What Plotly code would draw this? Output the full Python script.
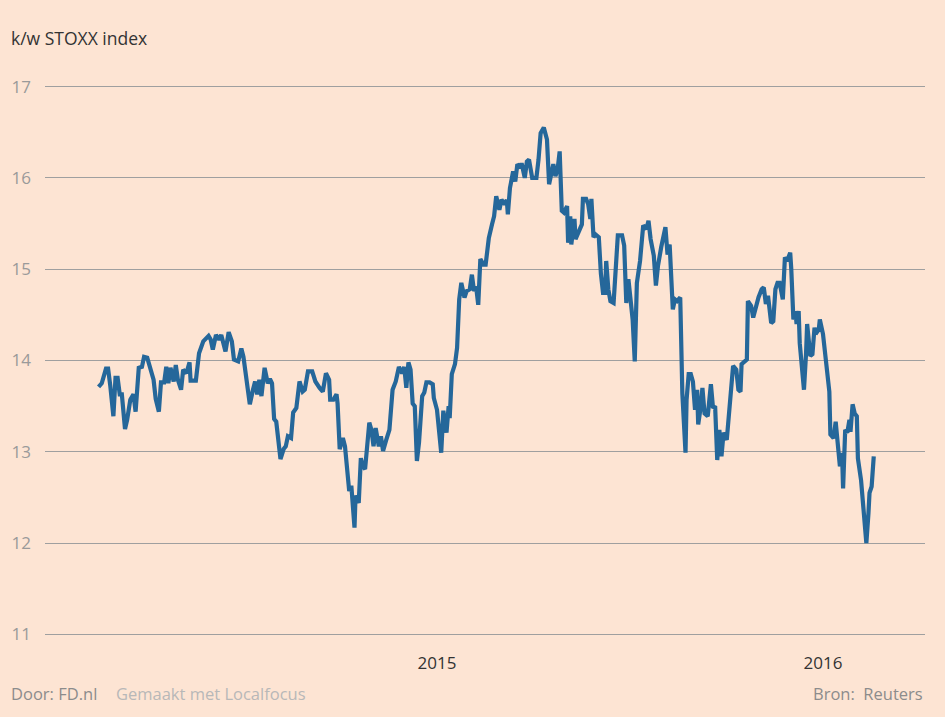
import plotly.graph_objects as go

# ---- data (k/w STOXX index) ----
dates_2014 = [
    "2014-02-15", "2014-02-18", "2014-02-22", "2014-02-24", "2014-02-26", "2014-03-01", "2014-03-03", "2014-03-05", "2014-03-07", "2014-03-09",
    "2014-03-12", "2014-03-14", "2014-03-17", "2014-03-20", "2014-03-22", "2014-03-25", "2014-03-28", "2014-03-30", "2014-04-02", "2014-04-05",
    "2014-04-08", "2014-04-10", "2014-04-13", "2014-04-15", "2014-04-18", "2014-04-20", "2014-04-22", "2014-04-24", "2014-04-27", "2014-04-29",
    "2014-05-01", "2014-05-04", "2014-05-06", "2014-05-09", "2014-05-12", "2014-05-13", "2014-05-18", "2014-05-21", "2014-05-25", "2014-05-30",
    "2014-06-01", "2014-06-03", "2014-06-06", "2014-06-09", "2014-06-11", "2014-06-15", "2014-06-18", "2014-06-21", "2014-06-23", "2014-06-27",
    "2014-06-30", "2014-07-02", "2014-07-06", "2014-07-08", "2014-07-11", "2014-07-13", "2014-07-15", "2014-07-17", "2014-07-19", "2014-07-22",
    "2014-07-25", "2014-07-27", "2014-07-29", "2014-07-31", "2014-08-02", "2014-08-06", "2014-08-09", "2014-08-11", "2014-08-13", "2014-08-16",
    "2014-08-18", "2014-08-21", "2014-08-24", "2014-08-27", "2014-08-29", "2014-09-01", "2014-09-05", "2014-09-08", "2014-09-12", "2014-09-15",
    "2014-09-18", "2014-09-21", "2014-09-22", "2014-09-25", "2014-09-28", "2014-09-29", "2014-10-01", "2014-10-04", "2014-10-06", "2014-10-08",
    "2014-10-10", "2014-10-12", "2014-10-15", "2014-10-16", "2014-10-19", "2014-10-21", "2014-10-23", "2014-10-25", "2014-10-26", "2014-10-29",
    "2014-10-31", "2014-11-02", "2014-11-04", "2014-11-07", "2014-11-09", "2014-11-11", "2014-11-14", "2014-11-17", "2014-11-20", "2014-11-23",
    "2014-11-26", "2014-11-29", "2014-12-01", "2014-12-03", "2014-12-05", "2014-12-07", "2014-12-09", "2014-12-11", "2014-12-13", "2014-12-15",
    "2014-12-18", "2014-12-20", "2014-12-22", "2014-12-25", "2014-12-28", "2014-12-29",
]
values_2014 = [
    13.71, 13.75, 13.91, 13.91, 13.73, 13.39, 13.81, 13.81, 13.63, 13.63,
    13.25, 13.35, 13.57, 13.63, 13.44, 13.92, 13.93, 14.04, 14.03, 13.92,
    13.79, 13.58, 13.44, 13.76, 13.76, 13.93, 13.75, 13.92, 13.77, 13.95,
    13.79, 13.68, 13.90, 13.86, 13.98, 13.78, 13.78, 14.08, 14.21, 14.27,
    14.23, 14.12, 14.28, 14.23, 14.28, 14.10, 14.31, 14.21, 14.01, 13.99,
    14.13, 14.04, 13.68, 13.52, 13.68, 13.77, 13.63, 13.79, 13.61, 13.92,
    13.75, 13.80, 13.75, 13.36, 13.33, 12.92, 13.03, 13.06, 13.17, 13.15,
    13.43, 13.48, 13.77, 13.66, 13.68, 13.88, 13.88, 13.77, 13.70, 13.66,
    13.86, 13.79, 13.57, 13.57, 13.63, 13.53, 13.03, 13.15, 13.06, 12.81,
    12.57, 12.63, 12.17, 12.52, 12.44, 12.93, 12.84, 12.81, 12.95, 13.32,
    13.24, 13.06, 13.26, 13.06, 13.17, 13.01, 13.13, 13.24, 13.68, 13.77,
    13.93, 13.86, 13.93, 13.70, 13.98, 13.90, 13.53, 13.50, 12.90, 13.10,
    13.61, 13.65, 13.76, 13.76, 13.74, 13.59,
]

dates_2015 = [
    "2015-01-01", "2015-01-03", "2015-01-05", "2015-01-07", "2015-01-10", "2015-01-12", "2015-01-13", "2015-01-15", "2015-01-18", "2015-01-20",
    "2015-01-22", "2015-01-24", "2015-01-27", "2015-01-29", "2015-02-01", "2015-02-03", "2015-02-05", "2015-02-07", "2015-02-09", "2015-02-11",
    "2015-02-14", "2015-02-16", "2015-02-19", "2015-02-22", "2015-02-24", "2015-02-26", "2015-03-01", "2015-03-03", "2015-03-06", "2015-03-08",
    "2015-03-09", "2015-03-11", "2015-03-14", "2015-03-16", "2015-03-18", "2015-03-21", "2015-03-22", "2015-03-25", "2015-03-27", "2015-03-29",
    "2015-04-01", "2015-04-03", "2015-04-05", "2015-04-07", "2015-04-09", "2015-04-12", "2015-04-15", "2015-04-17", "2015-04-19", "2015-04-21",
    "2015-04-23", "2015-04-25", "2015-04-27", "2015-04-29", "2015-05-01", "2015-05-04", "2015-05-05", "2015-05-07", "2015-05-08", "2015-05-11",
    "2015-05-12", "2015-05-16", "2015-05-18", "2015-05-19", "2015-05-22", "2015-05-24", "2015-05-26", "2015-05-27", "2015-05-29", "2015-05-31",
    "2015-06-03", "2015-06-05", "2015-06-07", "2015-06-09", "2015-06-10", "2015-06-12", "2015-06-14", "2015-06-17", "2015-06-19", "2015-06-21",
    "2015-06-25", "2015-06-27", "2015-06-29", "2015-07-01", "2015-07-03", "2015-07-05", "2015-07-07", "2015-07-09", "2015-07-12", "2015-07-15",
    "2015-07-18", "2015-07-20", "2015-07-22", "2015-07-25", "2015-07-27", "2015-07-29", "2015-08-01", "2015-08-05", "2015-08-07", "2015-08-09",
    "2015-08-12", "2015-08-14", "2015-08-16", "2015-08-19", "2015-08-21", "2015-08-24", "2015-08-25", "2015-08-27", "2015-08-29", "2015-08-31",
    "2015-09-02", "2015-09-04", "2015-09-05", "2015-09-07", "2015-09-09", "2015-09-11", "2015-09-14", "2015-09-17", "2015-09-19", "2015-09-21",
    "2015-09-23", "2015-09-25", "2015-09-27", "2015-09-29", "2015-10-02", "2015-10-05", "2015-10-08", "2015-10-11", "2015-10-13", "2015-10-15",
    "2015-10-16", "2015-10-19", "2015-10-21", "2015-10-22", "2015-10-25", "2015-10-27", "2015-10-29", "2015-11-01", "2015-11-04", "2015-11-06",
    "2015-11-08", "2015-11-10", "2015-11-13", "2015-11-15", "2015-11-17", "2015-11-19", "2015-11-21", "2015-11-24", "2015-11-26", "2015-11-28",
    "2015-12-01", "2015-12-02", "2015-12-04", "2015-12-06", "2015-12-07", "2015-12-09", "2015-12-10", "2015-12-12", "2015-12-14", "2015-12-16",
    "2015-12-17", "2015-12-20", "2015-12-22", "2015-12-24", "2015-12-25", "2015-12-28", "2015-12-29",
]
values_2015 = [
    13.46, 13.15, 12.99, 13.45, 13.21, 13.50, 13.37, 13.85, 13.96, 14.14,
    14.67, 14.85, 14.69, 14.76, 14.78, 14.94, 14.76, 14.81, 14.61, 15.11,
    15.05, 15.05, 15.34, 15.49, 15.58, 15.80, 15.65, 15.76, 15.71, 15.76,
    15.60, 15.89, 16.07, 15.96, 16.15, 16.11, 16.16, 16.00, 16.18, 16.20,
    16.00, 16.00, 16.00, 16.20, 16.49, 16.55, 16.42, 15.93, 16.02, 16.15,
    16.02, 16.09, 16.29, 15.64, 15.62, 15.69, 15.29, 15.58, 15.27, 15.55,
    15.33, 15.42, 15.49, 15.77, 15.77, 15.71, 15.55, 15.77, 15.35, 15.38,
    15.35, 14.95, 14.74, 14.74, 15.09, 14.78, 14.65, 14.63, 14.93, 15.37,
    15.37, 15.26, 14.63, 14.89, 14.67, 14.45, 13.99, 14.85, 15.09, 15.48,
    15.44, 15.53, 15.33, 15.15, 14.82, 15.04, 15.24, 15.46, 15.16, 15.27,
    14.56, 14.67, 14.65, 14.69, 13.64, 12.99, 13.57, 13.85, 13.85, 13.77,
    13.46, 13.68, 13.30, 13.46, 13.70, 13.42, 13.39, 13.74, 13.48, 13.50,
    12.91, 13.24, 12.95, 13.21, 13.13, 13.60, 13.94, 13.90, 13.68, 13.66,
    13.96, 13.99, 14.01, 14.65, 14.60, 14.47, 14.58, 14.69, 14.78, 14.80,
    14.62, 14.71, 14.41, 14.43, 14.78, 14.85, 14.85, 14.67, 15.13, 15.09,
    15.18, 15.00, 14.45, 14.54, 14.40, 14.54, 14.19, 13.94, 13.68, 14.08,
    14.40, 14.05, 14.07, 14.36, 14.29, 14.34, 14.45,
]

dates_2016 = [
    "2016-01-01", "2016-01-03", "2016-01-05", "2016-01-07", "2016-01-08", "2016-01-11", "2016-01-13", "2016-01-16", "2016-01-17", "2016-01-19",
    "2016-01-20", "2016-01-22", "2016-01-24", "2016-01-26", "2016-01-27", "2016-01-29", "2016-01-31", "2016-02-02", "2016-02-03", "2016-02-06",
    "2016-02-08", "2016-02-10", "2016-02-11", "2016-02-13", "2016-02-14", "2016-02-16", "2016-02-18",
]
values_2016 = [
    14.29, 14.08, 13.88, 13.66, 13.19, 13.15, 13.33, 12.89, 12.84, 12.99,
    12.60, 13.24, 13.21, 13.35, 13.22, 13.52, 13.42, 13.39, 12.93, 12.69,
    12.40, 12.09, 12.00, 12.33, 12.55, 12.62, 12.95,
]

y_ticks = [11, 12, 13, 14, 15, 16, 17]
x_tick_dates = ["2015-01-01", "2016-01-01"]
x_tick_labels = ["2015", "2016"]

title_text = "k/w STOXX index"
footer_left = "Door: FD.nl"
footer_mid = "Gemaakt met Localfocus"
footer_right = "Bron:  Reuters"

assert len(dates_2014) == len(values_2014)
assert len(dates_2015) == len(values_2015)
assert len(dates_2016) == len(values_2016)

dates = dates_2014 + dates_2015 + dates_2016
values = values_2014 + values_2015 + values_2016

BG = "#fde4d3"
LINE = "#25679a"
FONT = "Open Sans, Noto Sans, sans-serif"

fig = go.Figure()
fig.add_trace(go.Scatter(
    x=dates, y=values, mode="lines",
    line=dict(color=LINE, width=4.2),
    hoverinfo="skip", showlegend=False,
))

W, H = 945, 717
ml, mr, mt, mb = 45, 20, 82, 78
plot_w = W - ml - mr
plot_h = H - mt - mb

fig.update_layout(
    width=W, height=H,
    margin=dict(l=ml, r=mr, t=mt, b=mb, pad=0),
    paper_bgcolor=BG, plot_bgcolor=BG,
    font=dict(family=FONT),
    showlegend=False,
    xaxis=dict(
        type="date",
        range=["2013-12-26 08:00", "2016-04-06 11:00"],
        tickmode="array", tickvals=x_tick_dates, ticktext=x_tick_labels,
        showgrid=False, zeroline=False, showline=False,
        ticks="", ticklabelstandoff=12,
        tickfont=dict(size=17, color="#333333", family=FONT),
    ),
    yaxis=dict(
        range=[10.95, 17.05],
        tickmode="array", tickvals=y_ticks,
        showgrid=True, gridcolor="#9f9f9f", gridwidth=1,
        zeroline=False, showline=False,
        ticks="", ticklabelstandoff=13,
        tickfont=dict(size=17, color="#9a9a9a", family=FONT),
    ),
)

def px_x(px):
    return (px - ml) / plot_w

def px_y(py):
    return (H - mb - py) / plot_h

fig.add_annotation(text=title_text, xref="paper", yref="paper",
                   x=px_x(9), y=px_y(38), xanchor="left", yanchor="middle",
                   showarrow=False, font=dict(size=17.5, color="#333333", family=FONT))
fig.add_annotation(text=footer_left, xref="paper", yref="paper",
                   x=px_x(9), y=px_y(693), xanchor="left", yanchor="middle",
                   showarrow=False, font=dict(size=16.5, color="#8c8c8c", family=FONT))
fig.add_annotation(text=footer_mid, xref="paper", yref="paper",
                   x=px_x(114), y=px_y(693), xanchor="left", yanchor="middle",
                   showarrow=False, font=dict(size=16.5, color="#b8b8b8", family=FONT))
fig.add_annotation(text=footer_right, xref="paper", yref="paper",
                   x=px_x(925), y=px_y(693), xanchor="right", yanchor="middle",
                   showarrow=False, font=dict(size=16.5, color="#8c8c8c", family=FONT))

fig.write_html("out.html")
